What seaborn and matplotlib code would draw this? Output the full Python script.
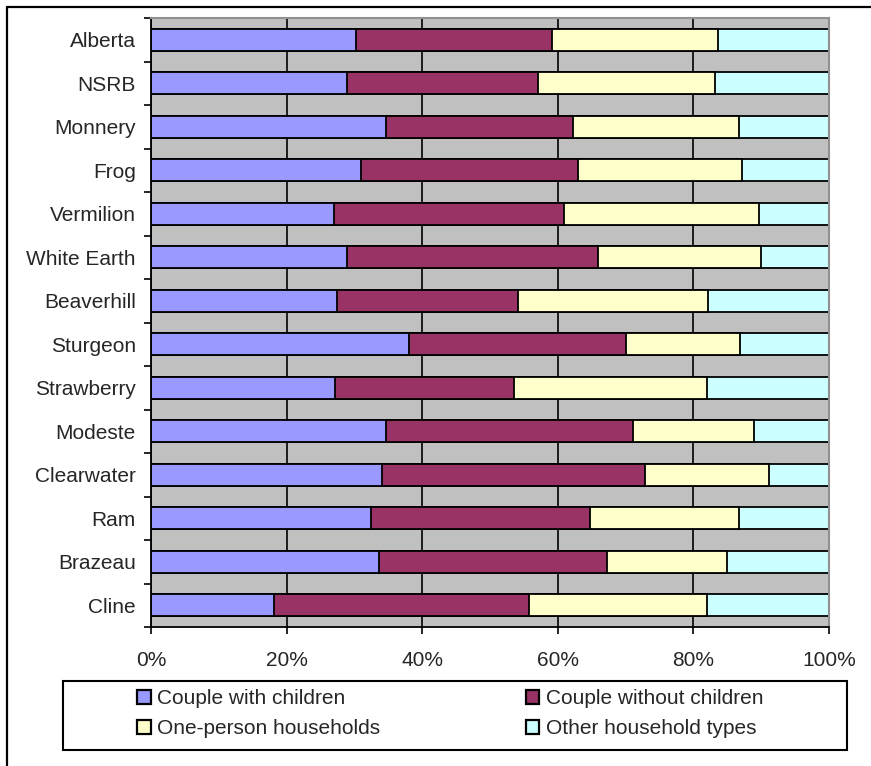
import numpy as np
import pandas as pd
import matplotlib
matplotlib.use("Agg")
import matplotlib.pyplot as plt
from matplotlib.patches import Patch, Rectangle
from matplotlib.lines import Line2D
from matplotlib.ticker import FixedLocator, FuncFormatter
import seaborn as sns

# Household composition by region (percent of households)
regions = ["Alberta", "NSRB", "Monnery", "Frog", "Vermilion", "White Earth",
           "Beaverhill", "Sturgeon", "Strawberry", "Modeste", "Clearwater",
           "Ram", "Brazeau", "Cline"]
couple_with_children = [30.3, 28.9, 34.6, 31.0, 27.0, 28.9, 27.5, 38.0, 27.1, 34.6, 34.1, 32.4, 33.6, 18.1]
couple_without_children = [28.8, 28.2, 27.7, 32.0, 33.9, 37.0, 26.7, 32.1, 26.5, 36.5, 38.8, 32.3, 33.6, 37.7]
one_person = [24.5, 26.1, 24.4, 24.1, 28.8, 24.0, 27.9, 16.7, 28.4, 17.9, 18.3, 22.0, 17.8, 26.2]
other_types = [16.4, 16.8, 13.3, 12.9, 10.3, 10.1, 17.9, 13.2, 18.0, 11.0, 8.8, 13.3, 15.0, 18.0]

series_names = ["Couple with children", "Couple without children",
                "One-person households", "Other household types"]
series_colors = ["#9999FF", "#993366", "#FFFFCC", "#CCFFFF"]
x_ticks = [0, 20, 40, 60, 80, 100]

sns.set_style("white")
plt.rcParams["font.family"] = ["Liberation Sans", "DejaVu Sans"]

values = np.array([couple_with_children, couple_without_children,
                   one_person, other_types]).T
shares = values / values.sum(axis=1, keepdims=True) * 100
cumulative = np.cumsum(shares, axis=1)

df = pd.DataFrame(cumulative, columns=series_names)
df["Region"] = regions

fig = plt.figure(figsize=(8.71, 7.66), dpi=100)
ax = fig.add_axes([151 / 871, 1 - 627 / 766, 678 / 871, 609 / 766])
ax.set_facecolor("#C0C0C0")

# 100% stacked bars: draw cumulative totals from the widest down
for name, color in reversed(list(zip(series_names, series_colors))):
    sns.barplot(data=df, x=name, y="Region", orient="h", color=color,
                saturation=1, width=0.5, edgecolor="black", linewidth=1.3,
                ax=ax)

ax.set_xlim(0, 100)
ax.set_ylim(len(regions) - 0.5, -0.5)
ax.set_xlabel("")
ax.set_ylabel("")

ax.set_axisbelow(True)
ax.xaxis.grid(True, color="black", linewidth=1.2)
ax.yaxis.grid(False)

ax.xaxis.set_major_locator(FixedLocator(x_ticks))
ax.xaxis.set_major_formatter(FuncFormatter(lambda v, _: f"{v:.0f}%"))
ax.tick_params(axis="x", which="major", direction="out", length=5,
               width=1.2, color="black", pad=12.5, labelsize=15, bottom=True)

ax.yaxis.set_minor_locator(FixedLocator(np.arange(-0.5, len(regions), 1.0)))
ax.tick_params(axis="y", which="major", length=0, pad=11, labelsize=15, left=True)
ax.tick_params(axis="y", which="minor", direction="out", length=5,
               width=1.2, color="black", left=True)

for side in ("left", "bottom"):
    ax.spines[side].set_color("black")
    ax.spines[side].set_linewidth(1.3)
for side in ("top", "right"):
    ax.spines[side].set_color("#909090")
    ax.spines[side].set_linewidth(1.5)

# Legend in a boxed strip below the axis
handles = [Patch(facecolor=c, edgecolor="black", linewidth=1.6) for c in series_colors]
order = [0, 2, 1, 3]
leg = fig.legend([handles[i] for i in order], [series_names[i] for i in order],
                 ncol=2, loc="upper left", bbox_to_anchor=(137 / 871, 1 - 689 / 766),
                 frameon=False, borderpad=0, borderaxespad=0,
                 handlelength=0.65, handleheight=0.65, handletextpad=0.3,
                 columnspacing=7.0, labelspacing=0.55, fontsize=15)

fig.add_artist(Rectangle((63 / 871, 1 - 750 / 766), 784 / 871, 69 / 766,
                         transform=fig.transFigure, fill=False,
                         edgecolor="black", linewidth=1.5))

# Chart frame on the top and left edges
fig.add_artist(Line2D([7 / 871, 7 / 871], [0, 1 - 6.5 / 766],
                      transform=fig.transFigure, color="black", linewidth=1.6))
fig.add_artist(Line2D([7 / 871, 1], [1 - 6.5 / 766, 1 - 6.5 / 766],
                      transform=fig.transFigure, color="black", linewidth=1.6))

fig.savefig("out.png", dpi=100)
